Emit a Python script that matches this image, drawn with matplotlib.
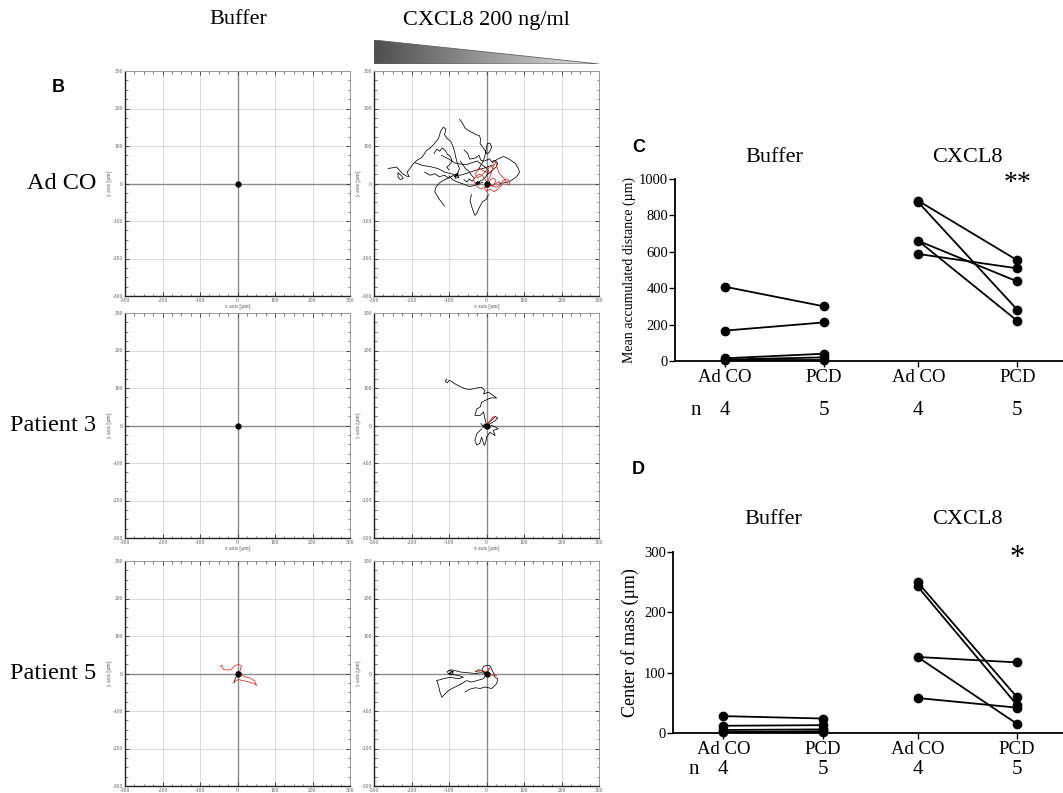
import numpy as np
import matplotlib
matplotlib.use("Agg")
import matplotlib.pyplot as plt
from matplotlib.colors import LinearSegmentedColormap
from matplotlib.patches import Polygon
from matplotlib.ticker import MultipleLocator

# ===============================
# Data
# ===============================
# single-cell tracks (x, y in um), one list per condition
ADCO_BUF_BLACK = [[(0, 0), (1, 1), (-1, 0), (0, -1)]]
ADCO_BUF_RED = []

ADCO_CXCL8_BLACK = [
    [(-72, 171), (-66, 164), (-57, 148), (-48, 141), (-40, 137), (-28, 130), (-19, 128), (-16, 119),
     (-17, 106), (-10, 97), (-4, 88), (2, 79), (8, 84), (14, 97), (9, 108), (2, 106), (-4, 75),
     (-8, 61), (-13, 52), (-20, 40)],
    [(-150, 95), (-140, 105), (-128, 120), (-122, 140), (-115, 150), (-108, 145), (-112, 130),
     (-105, 120), (-95, 112), (-90, 100), (-85, 85), (-82, 70), (-78, 55), (-72, 40), (-80, 22)],
    [(-262, 40), (-250, 42), (-240, 44), (-232, 35), (-224, 26), (-214, 20), (-206, 18), (-212, 30),
     (-204, 40), (-196, 52), (-185, 62), (-172, 70), (-160, 88), (-150, 95)],
    [(-236, 28), (-228, 22), (-222, 14), (-230, 10), (-236, 18), (-236, 28)],
    [(-75, 28), (-95, 18), (-112, 10), (-125, 2), (-135, -10), (-138, -22), (-132, -32), (-126, -42),
     (-118, -52), (-112, -60)],
    [(-40, -30), (-44, -45), (-40, -60), (-36, -72), (-31, -85), (-26, -80), (-22, -70), (-16, -58),
     (-10, -48), (0, -42), (5, -30)],
    [(15, 55), (30, 65), (45, 72), (55, 68), (65, 62), (78, 52), (85, 40), (88, 30), (80, 18),
     (72, 12), (60, 5), (48, 2), (35, 0)],
    [(-190, 55), (-170, 48), (-150, 45), (-130, 40), (-110, 30), (-90, 25), (-70, 22), (-50, 28),
     (-30, 35), (-10, 40), (5, 45), (20, 50)],
    [(-120, 75), (-100, 65), (-85, 55), (-70, 52), (-55, 50), (-40, 55), (-25, 60), (-15, 52),
     (-5, 45), (5, 35), (0, 20), (-10, 10), (-20, 5), (-30, 0)],
    [(-100, 20), (-90, 10), (-80, 5), (-60, -2), (-45, -8), (-30, -5), (-20, 0), (-10, 3)],
    [(-60, 90), (-50, 80), (-45, 65), (-30, 68), (-20, 75), (-15, 62), (-8, 60)],
    [(-140, 80), (-132, 92), (-125, 86), (-118, 95), (-110, 88), (-104, 78), (-96, 72), (-92, 60),
     (-98, 50), (-106, 44), (-100, 36)],
    [(-70, 60), (-62, 48), (-56, 40), (-48, 34), (-40, 22), (-32, 14), (-38, 6), (-46, 12),
     (-52, 4), (-60, 10)],
    [(-5, 60), (8, 66), (14, 58), (22, 62), (30, 54), (26, 44), (18, 38), (10, 30), (2, 24)],
    [(-165, 30), (-150, 22), (-138, 26), (-126, 18), (-112, 22), (-100, 14)],
    [(-86, 18), (-78, 25), (-74, 16), (-84, 14), (-80, 24), (-76, 20), (-84, 20)],
    [(-30, 2), (-22, -4), (-18, 4), (-28, -2), (-24, 6), (-20, -2), (-26, 0)],
]
ADCO_CXCL8_RED = [
    [(-35, 10), (-28, 18), (-20, 25), (-10, 20), (-5, 12), (0, 5), (8, 0), (15, -8), (20, -2),
     (25, 8), (18, 15), (10, 10), (5, 0), (-5, -10), (-15, -15), (-25, -8), (-30, 0), (-35, 10)],
    [(0, 0), (10, 20), (15, 35), (20, 50), (25, 58), (28, 45), (32, 30), (40, 20), (50, 10),
     (55, 0), (60, -5), (62, 5), (55, 12), (45, 8), (35, -5), (25, -10), (12, -5), (0, 0)],
    [(-20, 40), (-10, 35), (0, 30), (10, 28), (18, 38), (12, 48), (5, 40), (-5, 30), (-15, 20),
     (-25, 15), (-30, 25), (-20, 40)],
    [(0, -20), (10, -15), (20, -22), (30, -15), (40, -5), (35, 5), (25, 0), (15, -5), (5, -3),
     (-5, -12), (0, -20)],
]

P3_BUF_BLACK = [[(0, 0), (1, 1), (-1, 0), (0, -1)]]
P3_BUF_RED = []

P3_CXCL8_BLACK = [
    [(-106, 124), (-110, 118), (-104, 114), (-100, 120), (-97, 120), (-84, 111), (-70, 104),
     (-57, 98), (-44, 96), (-26, 100), (-13, 102), (-4, 93), (-8, 84), (5, 89), (18, 80), (27, 73),
     (15, 74), (5, 71), (-5, 66), (-13, 62), (-17, 49), (-26, 44), (-31, 27), (-17, 27), (-8, 36),
     (-4, 18), (0, 0)],
    [(-13, -9), (-26, -22), (-31, -40), (-26, -52), (-18, -48), (-13, -31), (-6, -53), (-2, -45),
     (0, -31), (9, -18), (23, -27), (18, -13), (31, -9), (22, -3), (13, 0)],
    [(0, 0), (10, 5), (22, 12), (30, 20), (24, 24), (15, 15), (5, 8)],
    [(-15, 5), (-8, -3), (0, 2), (6, -5), (-2, -8), (-10, -4), (-5, 4), (2, -2)],
]
P3_CXCL8_RED = [
    [(2, 4), (10, 12), (18, 18), (22, 24), (16, 22), (8, 10), (0, 2), (-6, -2), (4, -6), (2, 4)],
]

P5_BUF_BLACK = [
    [(0, 0), (-3, -8), (-7, -16), (-9, -24)],
    [(-3, 3), (3, 6), (4, -3), (-2, -4), (2, 2)],
]
P5_BUF_RED = [
    [(-47, 18), (-42, 22), (-38, 11), (-30, 10), (-25, 9), (-16, 12), (-7, 21), (2, 24), (8, 22),
     (11, 20), (6, 6), (15, -7), (25, -10), (33, -12), (40, -16), (46, -20), (51, -32), (44, -26),
     (37, -25), (28, -22), (20, -20), (10, -18), (2, -16), (-5, -20), (-12, -25)],
]

P5_CXCL8_BLACK = [
    [(-101, 8), (-88, 5), (-97, -1), (-90, -3), (-75, -5), (-62, -10), (-75, -14), (-97, -10),
     (-115, -14), (-133, -19), (-128, -32), (-124, -50), (-119, -63), (-110, -54), (-101, -45),
     (-84, -36), (-66, -27), (-53, -19), (-40, -23), (-26, -19), (-8, -14), (0, 0)],
    [(-57, -49), (-45, -42), (-30, -38), (-17, -40), (-4, -36), (14, -40), (27, -27), (30, -15),
     (22, -9), (20, 0), (17, 4), (12, 15), (9, 21), (0, 22), (-8, 19), (-13, 7), (0, 0)],
    [(-105, 5), (-95, 10), (-85, 8), (-70, 4), (-50, 2), (-30, 0), (-15, 2), (0, 0)],
    [(-100, 0), (-92, 6), (-88, -2), (-96, -4), (-104, 2)],
    [(-30, 5), (-20, 10), (-12, 8), (-5, 3)],
]
P5_CXCL8_RED = [
    [(-26, 4), (-13, 8), (0, 4), (14, -4), (27, -6)],
    [(0, 0), (5, 10), (8, 15), (3, 5), (-5, -3), (10, -8)],
]

# accumulated distance (um)
DIST_BUF_ADCO = [408, 167, 15, 8]
DIST_BUF_PCD = [300, 212, 40, 20, 8]
DIST_BUF_PAIRS = [(0, 0), (1, 1), (2, 2), (3, 3), (3, 4)]
DIST_CX_ADCO = [880, 872, 660, 588]
DIST_CX_PCD = [553, 509, 437, 281, 220]
DIST_CX_PAIRS = [(0, 0), (1, 3), (2, 2), (2, 4), (3, 1)]

# center of mass (um)
COM_BUF_ADCO = [28, 12, 5, 1]
COM_BUF_PCD = [24, 13, 6, 3, 1]
COM_BUF_PAIRS = [(0, 0), (1, 1), (2, 2), (3, 3), (3, 4)]
COM_CX_ADCO = [250, 243, 126, 58]
COM_CX_PCD = [117, 59, 46, 42, 15]
COM_CX_PAIRS = [(0, 1), (1, 2), (2, 0), (2, 4), (3, 3)]

GROUPS = ["Ad CO", "PCD", "Ad CO", "PCD"]
N_COUNTS = ["4", "5", "4", "5"]
ROW_LABELS = ["Ad CO", "Patient 3", "Patient 5"]
TRACK_TICKS = [-300, -200, -100, 0, 100, 200, 300]

# ===============================
# Figure setup
# ===============================
W, H = 1063, 793
SERIF = "Liberation Serif"
plt.rcParams["font.family"] = SERIF
fig = plt.figure(figsize=(W / 100, H / 100), dpi=100)
fig.patch.set_facecolor("white")


def px_axes(left, top, right, bottom):
    return fig.add_axes([left / W, 1 - bottom / H, (right - left) / W, (bottom - top) / H])


def track_panel(ax, black, red, xlabel=True):
    ax.set_xlim(-300, 300)
    ax.set_ylim(-300, 300)
    for v in (-200, -100, 100, 200):
        ax.axvline(v, color="#d4d4d4", lw=0.6, zorder=0)
        ax.axhline(v, color="#d4d4d4", lw=0.6, zorder=0)
    ax.axvline(0, color="#8a8a8a", lw=1.0, zorder=1)
    ax.axhline(0, color="#8a8a8a", lw=1.0, zorder=1)
    for tr in black:
        xy = np.array(tr)
        ax.plot(xy[:, 0], xy[:, 1], color="black", lw=0.55, zorder=3)
    for tr in red:
        xy = np.array(tr)
        ax.plot(xy[:, 0], xy[:, 1], color="#d42a2a", lw=0.55, zorder=4)
    ax.plot(0, 0, "o", color="black", ms=3.5, zorder=5)
    ax.set_xticks(TRACK_TICKS)
    ax.set_yticks(TRACK_TICKS)
    ax.set_xticklabels([str(t) for t in TRACK_TICKS])
    ax.set_yticklabels([str(t) for t in TRACK_TICKS])
    ax.xaxis.set_minor_locator(MultipleLocator(25))
    ax.yaxis.set_minor_locator(MultipleLocator(25))
    ax.tick_params(which="both", direction="in", top=True, right=True,
                   labelsize=4, labelcolor="#555555", color="#444444", pad=1.5)
    ax.tick_params(which="major", length=3, width=0.7)
    ax.tick_params(which="minor", length=1.8, width=0.5)
    if xlabel:
        ax.set_xlabel("x axis [µm]", fontsize=4, color="#555555", labelpad=0.5)
    ax.set_ylabel("y axis [µm]", fontsize=4, color="#555555", labelpad=0.5)
    for side in ("left", "bottom"):
        ax.spines[side].set_color("#222222")
        ax.spines[side].set_linewidth(1.0)
    for side in ("top", "right"):
        ax.spines[side].set_color("#9a9a9a")
        ax.spines[side].set_linewidth(0.7)


# ===============================
# Panel B: trajectories
# ===============================
rows = [(71, 296), (313, 538), (561, 786)]
cols = [(125, 350), (374, 599)]
tracks = [
    (ADCO_BUF_BLACK, ADCO_BUF_RED, ADCO_CXCL8_BLACK, ADCO_CXCL8_RED),
    (P3_BUF_BLACK, P3_BUF_RED, P3_CXCL8_BLACK, P3_CXCL8_RED),
    (P5_BUF_BLACK, P5_BUF_RED, P5_CXCL8_BLACK, P5_CXCL8_RED),
]
for k, ((top, bottom), label, (bb, br, cb, cr)) in enumerate(zip(rows, ROW_LABELS, tracks)):
    last = k == len(rows) - 1
    ax_l = px_axes(cols[0][0], top, cols[0][1], bottom)
    track_panel(ax_l, bb, br, xlabel=not last)
    ax_r = px_axes(cols[1][0], top, cols[1][1], bottom)
    track_panel(ax_r, cb, cr, xlabel=not last)
    fig.text(96 / W, 1 - (top + bottom) / 2 / H, label, ha="right", va="center", fontsize=17.5)

fig.text(238 / W, 1 - 20 / H, "Buffer", ha="center", va="center", fontsize=16)
fig.text(486 / W, 1 - 20 / H, "CXCL8 200 ng/ml", ha="center", va="center", fontsize=16)
fig.text(52 / W, 1 - 88 / H, "B", ha="left", va="center", fontsize=13,
         fontweight="bold", family="Liberation Sans")

# gradient wedge above the CXCL8 column
tri_ax = px_axes(374, 40, 599, 64)
tri_ax.axis("off")
grad = np.linspace(0, 1, 256).reshape(1, -1)
cmap = LinearSegmentedColormap.from_list("wedge", ["#4e4e4e", "#e2e2e2"])
im = tri_ax.imshow(grad, cmap=cmap, extent=[0, 1, 0, 1], aspect="auto")
tri_ax.set_xlim(0, 1)
tri_ax.set_ylim(0, 1)
wedge = Polygon([[0, 0], [0, 1], [1, 0]], closed=True, transform=tri_ax.transData)
im.set_clip_path(wedge)
tri_ax.add_patch(Polygon([[0, 0], [0, 1], [1, 0]], closed=True, fill=False,
                         edgecolor="#606060", lw=0.6))

# ===============================
# Panels C and D: paired dot plots
# ===============================
XPOS = [0, 1, 1.95, 2.95]


def paired_panel(ax, buf_a, buf_p, buf_pairs, cx_a, cx_p, cx_pairs, ymax, ystep):
    for a, p, pairs, xa, xp in ((buf_a, buf_p, buf_pairs, XPOS[0], XPOS[1]),
                                (cx_a, cx_p, cx_pairs, XPOS[2], XPOS[3])):
        for i, j in pairs:
            ax.plot([xa, xp], [a[i], p[j]], color="black", lw=1.3, clip_on=False, zorder=2)
        ax.plot([xa] * len(a), a, "o", color="black", ms=6, clip_on=False, zorder=3)
        ax.plot([xp] * len(p), p, "o", color="black", ms=6, clip_on=False, zorder=3)
    ax.set_xlim(-0.505, 3.41)
    ax.set_ylim(0, ymax)
    ax.set_yticks(np.arange(0, ymax + 1, ystep))
    ax.set_xticks(XPOS)
    ax.set_xticklabels(GROUPS, fontsize=13.5)
    ax.tick_params(axis="y", labelsize=10.5, length=4, width=1.0, pad=1)
    ax.tick_params(axis="x", length=4, width=1.0, pad=2)
    for side in ("top", "right"):
        ax.spines[side].set_visible(False)
    for side in ("left", "bottom"):
        ax.spines[side].set_linewidth(1.3)
    ax.set_facecolor("none")


ax_c = px_axes(675, 179, 1063, 361)
paired_panel(ax_c, DIST_BUF_ADCO, DIST_BUF_PCD, DIST_BUF_PAIRS,
             DIST_CX_ADCO, DIST_CX_PCD, DIST_CX_PAIRS, 1000, 200)
ax_c.set_ylabel("Mean accumulated distance (µm)", fontsize=10, labelpad=2)

ax_d = px_axes(673, 552, 1063, 733)
paired_panel(ax_d, COM_BUF_ADCO, COM_BUF_PCD, COM_BUF_PAIRS,
             COM_CX_ADCO, COM_CX_PCD, COM_CX_PAIRS, 300, 100)
ax_d.set_ylabel("Center of mass (µm)", fontsize=13, labelpad=4)

for ax, title_y, n_y in ((ax_c, 1.12, -0.27), (ax_d, 1.177, -0.2)):
    tr = ax.get_xaxis_transform()
    ax.text((XPOS[0] + XPOS[1]) / 2, title_y, "Buffer", transform=tr, ha="center",
            va="center", fontsize=16)
    ax.text((XPOS[2] + XPOS[3]) / 2, title_y, "CXCL8", transform=tr, ha="center",
            va="center", fontsize=16)
    ax.text(-0.3, n_y, "n", transform=tr, ha="center", va="center", fontsize=15)
    for x, n in zip(XPOS, N_COUNTS):
        ax.text(x, n_y, n, transform=tr, ha="center", va="center", fontsize=15)

ax_c.text(XPOS[3], 975, "**", ha="center", va="center", fontsize=20)
ax_d.text(XPOS[3], 290, "*", ha="center", va="center", fontsize=22)

fig.text(632 / W, 1 - 148 / H, "C", ha="left", va="center", fontsize=13,
         fontweight="bold", family="Liberation Sans")
fig.text(632 / W, 1 - 470 / H, "D", ha="left", va="center", fontsize=13,
         fontweight="bold", family="Liberation Sans")

fig.savefig("out.png", dpi=100, facecolor="white")
